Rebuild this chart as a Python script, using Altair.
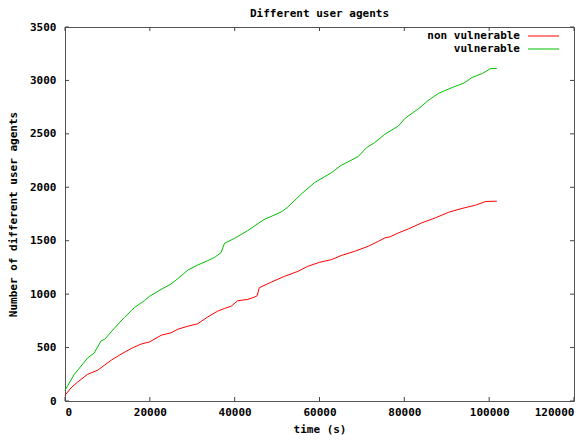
import altair as alt
import pandas as pd

# ---- data ----
series_names = ["non vulnerable", "vulnerable"]
chart_title = "Different user agents"

t_vuln = [0, 2200, 5350, 6900, 7700, 8500, 9300, 11600, 14000, 16400, 18700, 20000,
          22700, 25000, 26600, 29000, 31300, 33700, 35300, 36800, 37600, 40000, 43100,
          46900, 50900, 52500, 55600, 58800, 62800, 65100, 69100, 71100, 73000, 75400,
          78600, 80200, 83400, 85700, 88100, 91300, 94000, 96000, 98400, 100400, 101800]
v_vuln = [100, 250, 403, 450, 507, 563, 575, 679, 782, 876, 938, 982,
          1045, 1095, 1145, 1226, 1273, 1314, 1345, 1389, 1476, 1523, 1595,
          1698, 1767, 1814, 1933, 2043, 2136, 2205, 2287, 2371, 2418, 2496,
          2574, 2646, 2737, 2815, 2880, 2934, 2974, 3028, 3065, 3112, 3112]

t_non = [0, 1400, 3000, 5350, 7700, 9300, 10900, 13200, 15600, 17900, 20000, 22700,
         25000, 26600, 29000, 31300, 33700, 36000, 37600, 39200, 40700, 43100, 44700,
         45300, 45800, 48500, 51700, 54900, 57200, 60000, 62800, 65100, 68300, 71500,
         73900, 75400, 76600, 78600, 81000, 84100, 87300, 90500, 93600, 96800, 99200, 101800]
v_non = [53, 122, 178, 250, 288, 335, 382, 438, 491, 532, 554, 616,
         638, 672, 700, 723, 788, 841, 866, 888, 938, 951, 973,
         985, 1060, 1110, 1166, 1213, 1260, 1298, 1323, 1361, 1401, 1448,
         1495, 1526, 1536, 1573, 1611, 1667, 1714, 1767, 1802, 1833, 1867, 1870]

x_ticks = [0, 20000, 40000, 60000, 80000, 100000, 120000]
y_ticks = [0, 500, 1000, 1500, 2000, 2500, 3000, 3500]

# ---- layout / style ----
W, H = 509, 374
FONT = "DejaVu Sans Mono"
RED = "#ff0000"
GREEN = "#00c000"
TICK = 4

df = pd.concat([
    pd.DataFrame({"time": t_non, "count": v_non, "series": series_names[0]}),
    pd.DataFrame({"time": t_vuln, "count": v_vuln, "series": series_names[1]}),
])

xscale = alt.Scale(domain=[0, 120000], nice=False, zero=False)
yscale = alt.Scale(domain=[0, 3500], nice=False, zero=False)

lines = alt.Chart(df).mark_line(strokeWidth=1).encode(
    x=alt.X("time:Q", scale=xscale, title="time (s)",
            axis=alt.Axis(values=x_ticks, format="d", grid=False, domain=False,
                          ticks=False, labelPadding=5, titlePadding=6)),
    y=alt.Y("count:Q", scale=yscale, title="Number of different user agents",
            axis=alt.Axis(values=y_ticks, format="d", grid=False, domain=False,
                          ticks=False, labelPadding=9, titleX=-47, titleY=H / 2)),
    color=alt.Color("series:N", scale=alt.Scale(domain=series_names, range=[RED, GREEN]),
                    legend=None),
)

xt = pd.DataFrame({"t": x_ticks})
yt = pd.DataFrame({"v": y_ticks})
tick_color = "#444444"

ticks_bottom = alt.Chart(xt).mark_rule(color=tick_color).encode(
    x=alt.X("t:Q", scale=xscale), y=alt.value(H), y2=alt.value(H - TICK))
ticks_top = alt.Chart(xt).mark_rule(color=tick_color).encode(
    x=alt.X("t:Q", scale=xscale), y=alt.value(0), y2=alt.value(TICK))
ticks_left = alt.Chart(yt).mark_rule(color=tick_color).encode(
    y=alt.Y("v:Q", scale=yscale), x=alt.value(0), x2=alt.value(TICK))
ticks_right = alt.Chart(yt).mark_rule(color=tick_color).encode(
    y=alt.Y("v:Q", scale=yscale), x=alt.value(W), x2=alt.value(W - TICK))

# chart title as a text mark (kept inside the canvas)
title_layer = alt.Chart(pd.DataFrame({"s": [chart_title]})).mark_text(
    align="center", baseline="middle", font=FONT, fontSize=11, fontWeight="bold", color="black"
).encode(text="s:N", x=alt.value(W / 2), y=alt.value(-13))

# manual gnuplot-style key (label left of sample line)
key_layers = []
for i, (name, col) in enumerate(zip(series_names, [RED, GREEN])):
    d = pd.DataFrame({"s": [name]})
    ky = 9 + i * 13
    key_layers.append(alt.Chart(d).mark_text(align="right", baseline="middle", font=FONT,
                                             fontSize=11, fontWeight="bold", color="black")
                      .encode(text="s:N", x=alt.value(455), y=alt.value(ky)))
    key_layers.append(alt.Chart(d).mark_rule(color=col, strokeWidth=1)
                      .encode(x=alt.value(463), x2=alt.value(494), y=alt.value(ky)))

chart = alt.layer(lines, ticks_bottom, ticks_top, ticks_left, ticks_right,
                  title_layer, *key_layers).properties(
    width=W, height=H,
    autosize=alt.AutoSizeParams(type="none"),
    padding={"left": 57, "top": 19, "right": 4, "bottom": 35},
).configure(
    background="white"
).configure_view(
    stroke="#555555", strokeWidth=1
).configure_axis(
    labelFont=FONT, labelFontSize=11, labelFontWeight="bold", labelColor="black",
    titleFont=FONT, titleFontSize=11, titleFontWeight="bold", titleColor="black",
)

chart.save("out.html", embed_options={"renderer": "svg", "actions": False})
